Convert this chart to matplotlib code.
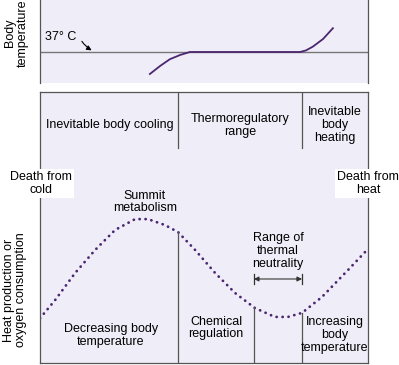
import numpy as np
import matplotlib.pyplot as plt

plt.rcParams['font.family'] = ['Liberation Sans', 'DejaVu Sans']
plt.rcParams['font.size'] = 9

# colores
bg = '#efedf7'
purple = '#4b2670'
gray = '#555555'

# temperatura ambiente en escala 0-100 (de muerte por frio a muerte por calor)
borders = [42.1, 65.2, 79.9]   # regulacion quimica / neutralidad / aumento
top_borders = [42.1, 79.9]     # zonas del panel central

# temperatura corporal
temp_x = [33.5, 36.6, 39.6, 42.7, 45.7, 79.3, 81.1, 83.2, 86.3, 89.3]
temp_y = [35.9, 36.3, 36.64, 36.85, 37.0, 37.0, 37.08, 37.27, 37.65, 38.19]

# produccion de calor / consumo de oxigeno
met_x = [0, 4.6, 10.7, 16.8, 22.9, 29.0, 32.9, 38.1, 42.1, 47.3, 53.4,
         59.5, 65.5, 71.6, 75.6, 79.9, 86.0, 93.9, 99.7]
met_y = [16.5, 23.2, 33.2, 41.7, 49.1, 53.1, 53.1, 50.9, 48.3, 41.7, 33.2,
         25.8, 20.3, 17.0, 17.0, 18.5, 24.4, 34.3, 41.7]

zone_labels = ['Inevitable body cooling', 'Thermoregulatory\nrange',
               'Inevitable\nbody\nheating']
zone_x = [21.3, 61.0, 89.9]
bottom_labels = ['Decreasing body\ntemperature', 'Chemical\nregulation',
                 'Increasing\nbody\ntemperature']
bottom_x = [21.6, 53.7, 89.9]
bottom_y = [10.3, 12.9, 10.3]

W, H = 399, 365
fig = plt.figure(figsize=(W / 100, H / 100), dpi=100)

# panel superior: temperatura corporal
ax1 = fig.add_axes([40 / W, 1 - 83 / H, 328 / W, 83 / H])
ax1.set_facecolor(bg)
ax1.set_xlim(0, 100)
ax1.set_ylim(35.45, 39.6)
ax1.axhline(37, color='#777777', lw=1.0)
ax1.plot(temp_x, temp_y, color=purple, lw=1.3)
ax1.set_xticks([])
ax1.set_yticks([])
for s in ['top', 'bottom']:
    ax1.spines[s].set_visible(False)
for s in ['left', 'right']:
    ax1.spines[s].set_color(gray)
    ax1.spines[s].set_linewidth(0.9)
ax1.text(1.5, 37.75, '37° C', ha='left', va='center')
ax1.annotate('', xy=(16.5, 37.02), xytext=(12.3, 37.65),
             arrowprops=dict(arrowstyle='-|>', color='black', lw=0.8,
                             mutation_scale=7, connectionstyle='arc3,rad=0.15'))

# panel inferior: zonas + metabolismo
ax2 = fig.add_axes([40 / W, 1 - 363 / H, 328 / W, 271 / H])
ax2.set_facecolor(bg)
ax2.set_xlim(0, 100)
ax2.set_ylim(0, 100)
ax2.set_xticks([])
ax2.set_yticks([])
for s in ax2.spines.values():
    s.set_color(gray)
    s.set_linewidth(0.9)

mid_bottom = 79.3
for b in top_borders:
    ax2.plot([b, b], [mid_bottom, 100], color=gray, lw=0.9)
for lab, x in zip(zone_labels, zone_x):
    ax2.text(x, 87.8, lab, ha='center', va='center', linespacing=1.1)

ax2.plot(met_x, met_y, color=purple, lw=2.0, linestyle=(0, (0.05, 2.1)),
         dash_capstyle='round')
for b in borders:
    ax2.plot([b, b], [0, np.interp(b, met_x, met_y)], color=gray, lw=0.9)
for lab, x, y in zip(bottom_labels, bottom_x, bottom_y):
    ax2.text(x, y, lab, ha='center', va='center', linespacing=1.1)

ax2.text(32.0, 59.4, 'Summit\nmetabolism', ha='center', va='center',
         linespacing=1.1)
ax2.text(72.6, 41.3, 'Range of\nthermal\nneutrality', ha='center',
         va='center', linespacing=1.1)
ax2.annotate('', xy=(borders[1], 31.0), xytext=(borders[2], 31.0),
             arrowprops=dict(arrowstyle='<|-|>', color='#333333', lw=0.8,
                             mutation_scale=7, shrinkA=0, shrinkB=0))
for b in borders[1:]:
    ax2.plot([b, b], [29.0, 33.0], color='#333333', lw=0.9)

box = dict(facecolor='white', edgecolor='none', pad=1.5)
ax2.text(0.3, 66.1, 'Death from\ncold', ha='center', va='center',
         linespacing=1.1, bbox=box, clip_on=False)
ax2.text(100, 66.1, 'Death from\nheat', ha='center', va='center',
         linespacing=1.1, bbox=box, clip_on=False)

# etiquetas de los ejes
fig.text(16 / W, 1 - 33 / H, 'Body\ntemperature', rotation=90,
         ha='center', va='center', linespacing=1.1)
fig.text(15 / W, 1 - 290 / H, 'Heat production or\noxygen consumption',
         rotation=90, ha='center', va='center', linespacing=1.1)

fig.savefig('out.png', dpi=100)
